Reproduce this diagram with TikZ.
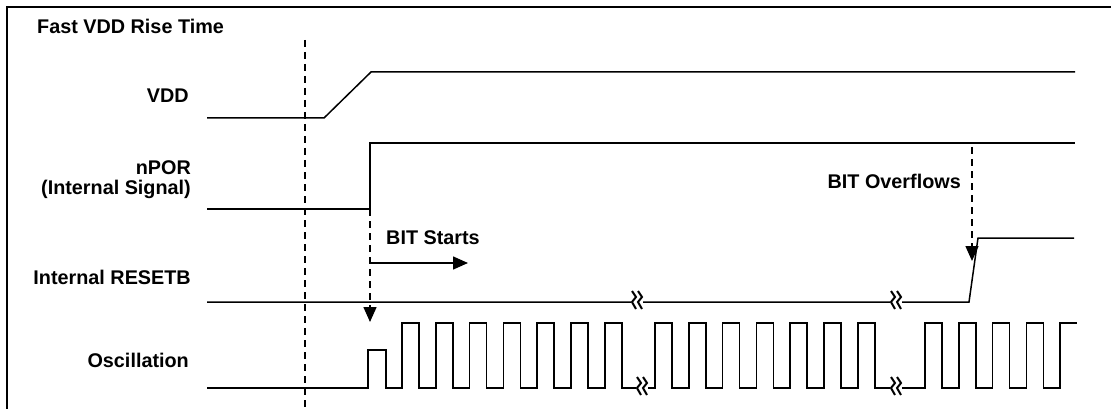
\documentclass[tikz,border=0pt]{standalone}
\usepackage{fontspec}
\setmainfont{Liberation Sans}
\usetikzlibrary{arrows.meta}
\tikzset{
  brk/.pic={
    \fill[white] (-5,-5) rectangle (7,5);
    \draw[line width=2pt, line join=miter] (-4,-9) -- (0,-3) -- (-4,2) -- (0,9);
    \draw[line width=2pt, line join=miter] (2,-9) -- (6,-3) -- (2,2) -- (6,9);
  }
}
\begin{document}
\begin{tikzpicture}[x=1pt,y=-1pt,
  sig/.style={line width=1.5pt, line join=miter},
  lbl/.style={font=\fontsize{19.8}{21}\selectfont\bfseries, inner sep=0pt},
  dsh/.style={line width=1.5pt, dash pattern=on 7pt off 5pt},
  arrowtip/.style={-{Triangle[width=13pt,length=15pt]}}
]
\useasboundingbox (0,0) rectangle (1111,409);
% frame
\draw[line width=2.5pt] (7,409) -- (7,7) -- (1111,7);
% labels
\node[lbl, anchor=base west] (title) at (37,34) {Fast VDD Rise Time};
\node[lbl, anchor=base east] (lvdd) at (189,103) {VDD};
\node[lbl, anchor=base east] (lnpor) at (191,175) {nPOR};
\node[lbl, anchor=base east] (lint) at (191,194) {(Internal Signal)};
\node[lbl, anchor=base east] (lrst) at (191,284) {Internal RESETB};
\node[lbl, anchor=base east] (losc) at (189,367) {Oscillation};
\node[lbl, anchor=base west] (bstart) at (386,244) {BIT Starts};
\node[lbl, anchor=base east] (bovf) at (961,188) {BIT Overflows};
% reference dashed line
\draw[dsh] (305,40) -- (305,409);
% VDD
\draw[sig] (207,118) -- (324,118) -- (371,72) -- (1075,72);
% nPOR
\draw[sig] (207,209) -- (370,209) -- (370,143) -- (1075,143);
% Internal RESETB
\draw[sig] (207,302) -- (969,302) -- (978,238) -- (1074,238);
% Oscillation
\draw[sig] (207,388) -- (368,388) -- (368,350) -- (386,350) -- (386,388)
  \foreach \r in {402,435.8,469.6,503.4,537.2,571,604.8} { -- (\r,388) -- (\r,323) -- ({\r+17},323) -- ({\r+17},388) }
  -- (655,388)
  \foreach \r in {655,688.8,722.6,756.4,790.2,824,857.8} { -- (\r,388) -- (\r,323) -- ({\r+17},323) -- ({\r+17},388) }
  -- (925,388)
  \foreach \r in {925,958.8,992.6,1026.4} { -- (\r,388) -- (\r,323) -- ({\r+17},323) -- ({\r+17},388) }
  -- (1060,388) -- (1060,323) -- (1077,323);
% break marks
\pic at (636,300) {brk};
\pic at (895,300) {brk};
\pic at (641,386) {brk};
\pic at (895,386) {brk};
% connectors
\coordinate (porrise) at (370,209);
\coordinate (oscarrow) at (370,322);
\coordinate (bsL) at (370,263);
\coordinate (bsR) at (468,263);
\coordinate (ovT) at (972,147);
\coordinate (ovB) at (972,261);
\draw[dsh, arrowtip] (porrise) -- (oscarrow);
\draw[sig, arrowtip] (bsL) -- (bsR);
\draw[dsh, arrowtip] (ovT) -- (ovB);
\end{tikzpicture}
\end{document}
